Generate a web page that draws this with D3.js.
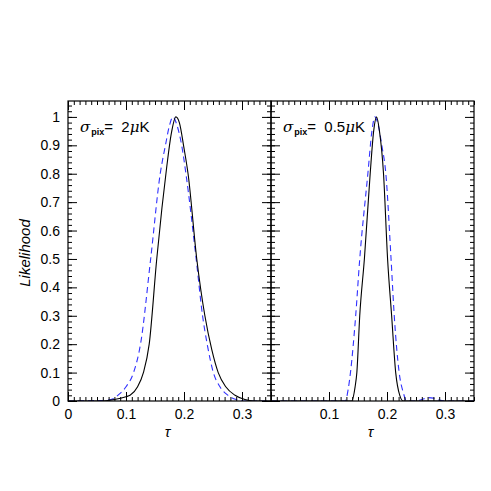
<!DOCTYPE html>
<html>
<head>
<meta charset="utf-8">
<script src="https://cdn.jsdelivr.net/npm/d3@7"></script>
<style>
  body { margin: 0; background: #fff; }
  text { font-family: "Liberation Sans", Arial, sans-serif; }
</style>
</head>
<body>
<div id="chart"></div>
<script>
// likelihood curves
const tauLeftSolid = [0, 0.06, 0.08, 0.10, 0.107, 0.12, 0.13, 0.14, 0.153, 0.162, 0.170, 0.178, 0.186, 0.192, 0.200, 0.207, 0.222, 0.236, 0.248, 0.259, 0.272, 0.288, 0.305, 0.32, 0.35];
const likeLeftSolid = [0, 0, 0.005, 0.015, 0.02, 0.05, 0.10, 0.2, 0.5, 0.68, 0.82, 0.94, 1.0, 0.98, 0.89, 0.80, 0.5, 0.30, 0.18, 0.10, 0.05, 0.02, 0.005, 0, 0];

const tauLeftDash = [0, 0.06, 0.08, 0.086, 0.10, 0.113, 0.125, 0.1425, 0.159, 0.168, 0.175, 0.181, 0.188, 0.196, 0.204, 0.221, 0.232, 0.24, 0.2506, 0.262, 0.276, 0.29, 0.305, 0.35];
const likeLeftDash = [0, 0.002, 0.01, 0.02, 0.05, 0.10, 0.2, 0.5, 0.80, 0.9, 0.97, 1.0, 0.97, 0.9, 0.79, 0.5, 0.30, 0.2, 0.10, 0.05, 0.02, 0.005, 0, 0];

const tauRightSolid = [0, 0.139, 0.145, 0.148, 0.153, 0.161, 0.171, 0.177, 0.182, 0.187, 0.194, 0.201, 0.208, 0.215, 0.222, 0.228, 0.35];
const likeRightSolid = [0, 0, 0.05, 0.10, 0.30, 0.5, 0.80, 0.95, 1.0, 0.95, 0.80, 0.5, 0.30, 0.10, 0.02, 0, 0];

const tauRightDash = [0, 0.128, 0.133, 0.137, 0.146, 0.153, 0.167, 0.174, 0.179, 0.185, 0.191, 0.198, 0.207, 0.2125, 0.221, 0.228, 0.234, 0.25, 0.26, 0.27, 0.28, 0.29, 0.30, 0.35];
const likeRightDash = [0, 0, 0.04, 0.10, 0.30, 0.5, 0.80, 0.95, 1.0, 0.97, 0.9, 0.80, 0.5, 0.30, 0.10, 0.03, 0, 0, 0.005, 0.012, 0.01, 0.003, 0, 0];

const xTickValues = [0, 0.1, 0.2, 0.3];
const yTickValues = [0, 0.1, 0.2, 0.3, 0.4, 0.5, 0.6, 0.7, 0.8, 0.9, 1];
const panelLabels = ["2", "0.5"];

const W = 491, H = 491;
const margin = {top: 101, left: 68};
const panelW = 203, panelH = 300;

const svg = d3.select("#chart").append("svg")
    .attr("width", W)
    .attr("height", H);

const x = d3.scaleLinear().domain([0, 0.35]).range([0, panelW]);
const y = d3.scaleLinear().domain([0, 1.056]).range([panelH, 0]);

const line = d3.line()
    .x(d => x(d[0]))
    .y(d => y(d[1]))
    .curve(d3.curveMonotoneX);

const panels = [
    {solid: d3.zip(tauLeftSolid, likeLeftSolid), dash: d3.zip(tauLeftDash, likeLeftDash)},
    {solid: d3.zip(tauRightSolid, likeRightSolid), dash: d3.zip(tauRightDash, likeRightDash)}
];

const xMinor = d3.range(0, 0.351, 0.01);
const yMinor = d3.range(0, 1.05, 0.02);
const majorLen = 9, minorLen = 4;

panels.forEach(function(p, i) {
    const g = svg.append("g")
        .attr("transform", `translate(${margin.left + i * panelW}, ${margin.top})`);

    const clipId = "clip" + i;
    g.append("clipPath").attr("id", clipId)
        .append("rect").attr("width", panelW).attr("height", panelH);

    // curves
    g.append("path")
        .datum(p.dash)
        .attr("clip-path", `url(#${clipId})`)
        .attr("d", line)
        .attr("fill", "none")
        .attr("stroke", "#3030ff")
        .attr("stroke-width", 1.1)
        .attr("stroke-dasharray", "6,4");

    g.append("path")
        .datum(p.solid)
        .attr("clip-path", `url(#${clipId})`)
        .attr("d", line)
        .attr("fill", "none")
        .attr("stroke", "black")
        .attr("stroke-width", 1.1);

    // axes: inward ticks on all four sides
    g.append("g").attr("transform", `translate(0, ${panelH})`)
        .call(d3.axisBottom(x).tickValues(xMinor).tickSize(-minorLen).tickFormat(""));
    g.append("g").attr("transform", `translate(0, ${panelH})`)
        .call(d3.axisBottom(x).tickValues(xTickValues).tickSize(-majorLen).tickPadding(8)
            .tickFormat(d => (i === 1 && d === 0) ? "" : d3.format("")(d)));
    g.append("g")
        .call(d3.axisTop(x).tickValues(xMinor).tickSize(-minorLen).tickFormat(""));
    g.append("g")
        .call(d3.axisTop(x).tickValues(xTickValues).tickSize(-majorLen).tickFormat(""));

    g.append("g")
        .call(d3.axisLeft(y).tickValues(yMinor).tickSize(-minorLen).tickFormat(""));
    g.append("g")
        .call(d3.axisLeft(y).tickValues(yTickValues).tickSize(-majorLen).tickPadding(8)
            .tickFormat(d => i === 0 ? d3.format("")(d) : ""));
    g.append("g").attr("transform", `translate(${panelW}, 0)`)
        .call(d3.axisRight(y).tickValues(yMinor).tickSize(-minorLen).tickFormat(""));
    g.append("g").attr("transform", `translate(${panelW}, 0)`)
        .call(d3.axisRight(y).tickValues(yTickValues).tickSize(-majorLen).tickFormat(""));

    g.selectAll(".domain").remove();
    g.selectAll(".tick line").attr("stroke", "black").attr("stroke-width", 1);
    g.selectAll(".tick text").attr("font-size", 14).attr("fill", "black")
        .attr("font-family", "Liberation Sans, Arial, sans-serif");

    g.append("rect")
        .attr("width", panelW)
        .attr("height", panelH)
        .attr("fill", "none")
        .attr("stroke", "black")
        .attr("stroke-width", 1.2);

    // sigma_pix annotation
    const t = g.append("text")
        .attr("x", 12)
        .attr("y", 31)
        .attr("font-size", 15)
        .attr("fill", "black");
    t.append("tspan").attr("font-family", "DejaVu Serif, serif").attr("font-style", "italic").text("σ");
    t.append("tspan").attr("font-size", 9).attr("font-weight", "bold").attr("dy", 3).attr("dx", 1).text("pix");
    t.append("tspan").attr("dy", -3).text("=\u00a0\u00a0" + panelLabels[i]);
    t.append("tspan").attr("font-family", "DejaVu Serif, serif").attr("font-style", "italic").text("μ");
    t.append("tspan").text("K");

    // x label
    g.append("text")
        .attr("x", panelW / 2 - 2)
        .attr("y", panelH + 36)
        .attr("text-anchor", "middle")
        .attr("font-family", "DejaVu Serif, serif")
        .attr("font-style", "italic")
        .attr("font-size", 15)
        .text("τ");
});

// y label
svg.append("text")
    .attr("transform", `translate(30, ${margin.top + panelH / 2 + 2}) rotate(-90)`)
    .attr("text-anchor", "middle")
    .attr("font-family", "DejaVu Serif, serif")
    .attr("font-style", "italic")
    .attr("font-size", 15)
    .text("Likelihood");
</script>
</body>
</html>
